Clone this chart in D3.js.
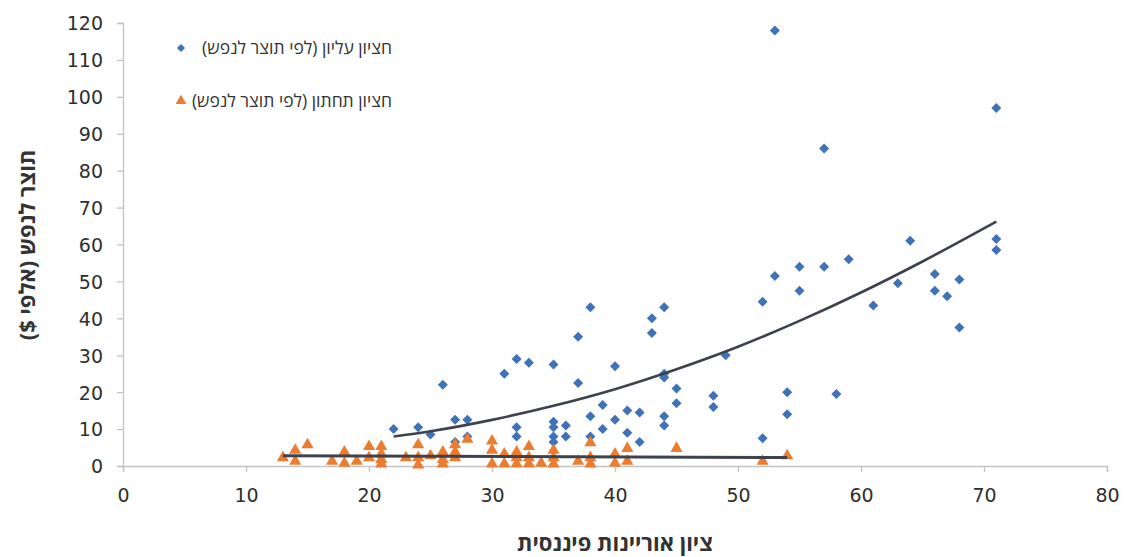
<!DOCTYPE html>
<html><head><meta charset="utf-8">
<script src="https://cdn.jsdelivr.net/npm/d3@7"></script>
<style>
body{margin:0;background:#fff;}
svg{display:block;font-family:"Open Sans","DejaVu Sans",sans-serif;}
</style></head>
<body><svg id="c" width="1127" height="557"></svg>
<script>
// ---- data ----
const upperX = [22,24,25,26,27,28,27,28,31,32,33,35,32,32,35,35,35,35,36,36,38,37,43,44,43,37,40,44,44,45,45,49,48,48,38,38,39,39,40,41,41,42,42,44,44,57,64,71,71,53,55,57,59,55,52,63,66,66,67,68,61,68,53,71,54,54,58,52];
const upperY = [10,10.5,8.5,22,12.5,12.5,6.5,8,25,29,28,27.5,10.5,8,12,10.5,8,6.5,11,8,43,35,40,43,36,22.5,27,25,24,21,17,30,19,16,13.5,8,16.5,10,12.5,15,9,14.5,6.5,13.5,11,86,61,61.5,58.5,51.5,54,54,56,47.5,44.5,49.5,52,47.5,46,50.5,43.5,37.5,118,97,20,14,19.5,7.5];
const lowerX = [13,14,14,15,17,18,18,19,20,20,21,21,21,21,23,24,24,24,25,26,26,26,27,27,27,28,30,30,30,31,31,32,32,32,33,33,33,34,35,35,35,37,38,38,38,40,40,41,41,45,52,54];
const lowerY = [2,4,1,5.5,1,3.5,0.5,1,5,2,5,3,1.5,0.3,2,5.5,2,0,2.5,3.5,0.3,1.5,5.5,3.5,2,7,6.5,4,0.3,3,0.3,3.5,2,0.3,5,2,0.3,0.5,4,2,0.3,1,6,2,0.3,3,0.5,4.5,1,4.5,1,2.5];
// trend lines
const upperTrendX = [22,25,30,35,40,45,50,55,60,65,71];
const upperTrendY = [8.0,9.4,12.5,16.3,20.8,26.2,32.3,39.3,47.0,55.4,66.2];
const lowerTrendX = [13,54];
const lowerTrendY = [2.8,2.3];
const xTicks = [0,10,20,30,40,50,60,70,80];
const yTicks = [0,10,20,30,40,50,60,70,80,90,100,110,120];
const legendLabels = ["חציון עליון (לפי תוצר לנפש)","חציון תחתון (לפי תוצר לנפש)"];
const xTitle = "ציון אוריינות פיננסית";
const yTitle = "תוצר לנפש (אלפי $)";

const blue = "#3f72b8", orange = "#ec7c30", trend = "#3d424c";
const m = {left:123, right:20, top:23, bottom:91};
const W = 1127, H = 557;
const svg = d3.select("#c");
const x = d3.scaleLinear().domain([0,80]).range([m.left, W-m.right]);
const y = d3.scaleLinear().domain([0,120]).range([H-m.bottom, m.top]);

// axes
const xa = svg.append("g").attr("transform",`translate(0,${y(0)})`)
  .call(d3.axisBottom(x).tickValues(xTicks).tickSize(6).tickPadding(17));
const ya = svg.append("g").attr("transform",`translate(${x(0)},0)`)
  .call(d3.axisLeft(y).tickValues(yTicks).tickSize(6).tickPadding(14));
[xa,ya].forEach(a=>{
  a.select(".domain").attr("stroke","#c4c4c4").attr("stroke-width",1.3);
  a.selectAll(".tick line").attr("stroke","#c4c4c4").attr("stroke-width",1.3);
  a.selectAll(".tick text").attr("fill","#2e2e2e").style("font-size","19px")
    .style("font-family","'DejaVu Sans',sans-serif");
});
ya.selectAll(".tick text").attr("dy","0.36em");

// points
const diamond = d3.symbol().type(d3.symbolSquare).size(50);
svg.append("g").selectAll("path").data(upperX.map((v,i)=>[v,upperY[i]])).join("path")
  .attr("d",diamond).attr("fill",blue)
  .attr("transform",d=>`translate(${x(d[0])},${y(d[1])}) rotate(45)`);
const tri = d3.symbol().type(d3.symbolTriangle).size(64);
svg.append("g").selectAll("path").data(lowerX.map((v,i)=>[v,lowerY[i]])).join("path")
  .attr("d",tri).attr("fill",orange)
  .attr("transform",d=>`translate(${x(d[0])},${y(d[1])-1})`);

// trend lines
const line = d3.line().x(d=>x(d[0])).y(d=>y(d[1])).curve(d3.curveCatmullRom);
svg.append("path").datum(upperTrendX.map((v,i)=>[v,upperTrendY[i]]))
  .attr("d",line).attr("fill","none").attr("stroke",trend).attr("stroke-width",2.6);
svg.append("path").datum(lowerTrendX.map((v,i)=>[v,lowerTrendY[i]]))
  .attr("d",line).attr("fill","none").attr("stroke",trend).attr("stroke-width",3);

// legend
const lg = svg.append("g");
lg.append("path").attr("d",d3.symbol().type(d3.symbolSquare).size(34)())
  .attr("fill",blue).attr("transform","translate(181,48) rotate(45)");
lg.append("path").attr("d",d3.symbol().type(d3.symbolTriangle).size(50)())
  .attr("fill",orange).attr("transform","translate(181,101)");
legendLabels.forEach((t,i)=>{
  lg.append("text").attr("x",392).attr("y",[48,101][i]).attr("dy","0.35em")
    .attr("direction","rtl").attr("text-anchor","start")
    .style("font-size","17.5px").attr("fill","#333")
    .style("font-family","'Open Sans',sans-serif").text(t);
});

// titles
svg.append("text").attr("x",(x(0)+x(80))/2).attr("y",543).attr("dy","0.35em")
  .attr("text-anchor","middle").attr("direction","rtl")
  .style("font-size","22px").style("font-weight","bold").attr("fill","#333").text(xTitle);
svg.append("text").attr("transform","translate(27,245) rotate(-90)").attr("dy","0.35em")
  .attr("text-anchor","middle").attr("direction","rtl")
  .style("font-size","22px").style("font-weight","bold").attr("fill","#333").text(yTitle);
</script></body></html>
